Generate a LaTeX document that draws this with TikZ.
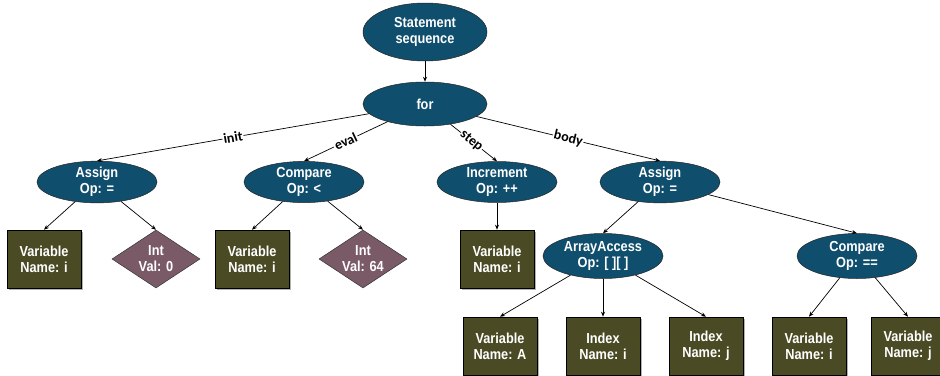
\documentclass[tikz,border=0pt]{standalone}
\usepackage{fontspec}
\setmainfont{Liberation Sans}
\newfontfamily\nodefont[FakeStretch=0.88]{Liberation Sans}
\newfontfamily\edgefont{Carlito}
\usetikzlibrary{shapes.geometric,arrows.meta,shadows}
\definecolor{opblue}{RGB}{15,78,108}
\definecolor{leafolive}{RGB}{74,75,36}
\definecolor{litmauve}{RGB}{122,90,102}
\tikzset{
  ntext/.style={text=white, align=center, font=\nodefont\fontsize{14.5}{16}\selectfont\bfseries},
  ast/.style={ellipse, minimum width=120pt, minimum height=38pt, inner sep=0pt,
    fill=opblue, draw=black!85, line width=0.5pt, ntext},
  leaf/.style={rectangle, minimum width=74pt, minimum height=58pt, inner sep=0pt,
    fill=leafolive, draw=black, line width=0.6pt, ntext,
    drop shadow={shadow xshift=1.6pt, shadow yshift=-1.6pt, fill=black!30, opacity=1}},
  lit/.style={diamond, minimum width=88pt, minimum height=58pt, inner sep=0pt, aspect=1.5,
    fill=litmauve, draw=black!80, line width=0.5pt, ntext},
  edge/.style={draw=black, line width=0.7pt, -{Stealth[length=5pt,width=4pt]}},
  elabel/.style={sloped, fill=white, inner sep=1pt, font=\edgefont\fontsize{14}{15}\selectfont\bfseries}
}
\begin{document}
\begin{tikzpicture}[x=1pt,y=-1pt]
\useasboundingbox (0,0) rectangle (940,375);
\clip (0,0) rectangle (940,375);
% interior nodes
\node[ast, minimum width=124pt, minimum height=58pt] (seq) at (425,32) {Statement\\sequence};
\node[ast, minimum width=124pt, minimum height=44pt] (for) at (425,104) {for};
\node[ast] (asg1) at (97,182) {Assign\\Op: =};
\node[ast] (cmp1) at (304,182) {Compare\\Op: <};
\node[ast] (inc) at (497,182) {Increment\\Op: ++};
\node[ast] (asg2) at (660,182) {Assign\\Op: =};
\node[ast, minimum height=45pt] (arr) at (603,256) {ArrayAccess\\Op: [ ][ ]};
\node[ast, minimum height=45pt] (cmp2) at (857,256) {Compare\\Op: ==};
% leaves
\node[leaf] (v1) at (44,259) {Variable\\Name: i};
\node[lit] (int0) at (156,259) {Int\\Val: 0};
\node[leaf] (v2) at (252,259) {Variable\\Name: i};
\node[lit] (int64) at (363,259) {Int\\Val: 64};
\node[leaf] (v3) at (497,259) {Variable\\Name: i};
\node[leaf] (vA) at (500,346) {Variable\\Name: A};
\node[leaf] (ix1) at (603,346) {Index\\Name: i};
\node[leaf] (ix2) at (706,346) {Index\\Name: j};
\node[leaf] (vi) at (809,346) {Variable\\Name: i};
\node[leaf] (vj) at (908,346) {Variable\\Name: j};
% connectors
\draw[edge] (seq) -- (for);
\draw[edge] (for) -- node[elabel]{init} (asg1.north);
\draw[edge] (for) -- node[elabel]{eval} (cmp1.north);
\draw[edge] (for) -- node[elabel, pos=0.45]{step} (inc.north);
\draw[edge] (for) -- node[elabel]{body} (asg2.north);
\draw[edge] (asg1) -- (v1.north);
\draw[edge] (asg1) -- (int0.north);
\draw[edge] (cmp1) -- (v2.north);
\draw[edge] (cmp1) -- (int64.north);
\draw[edge] (inc) -- (v3.north);
\draw[edge] (asg2) -- (arr.north);
\draw[edge] (asg2) -- (cmp2.north);
\draw[edge] (arr) -- (vA.north);
\draw[edge] (arr) -- (ix1.north);
\draw[edge] (arr) -- (ix2.north);
\draw[edge] (cmp2) -- (vi.north);
\draw[edge] (cmp2) -- (vj.north);
\end{tikzpicture}
\end{document}
